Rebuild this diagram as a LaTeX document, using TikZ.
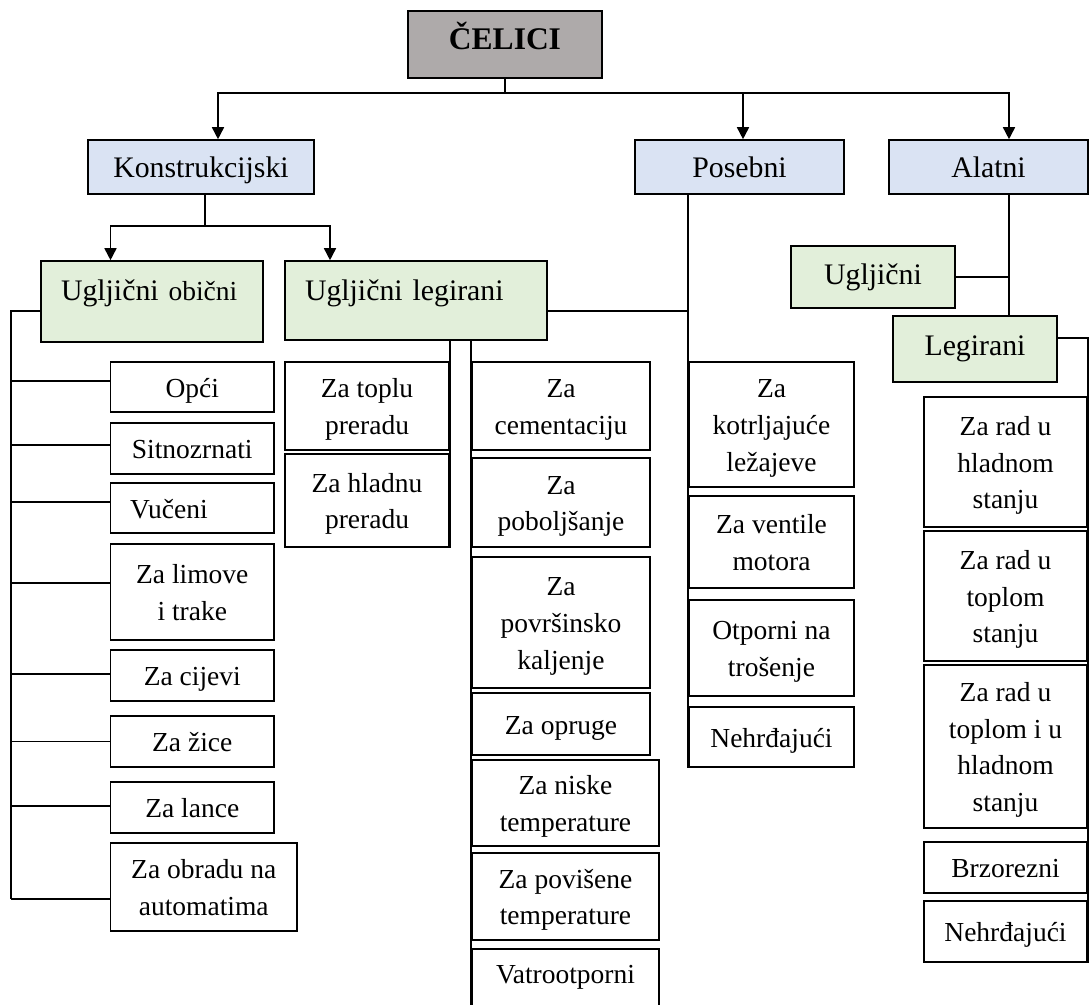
\documentclass[tikz,border=0pt]{standalone}
\usepackage{fontspec}
\setmainfont{Liberation Serif}
\usetikzlibrary{arrows.meta}
\definecolor{cgray}{RGB}{174,170,170}
\definecolor{cblue}{RGB}{218,227,243}
\definecolor{cgreen}{RGB}{226,239,218}
\newcommand{\bigf}{\fontsize{29.8}{36}\selectfont}
\newcommand{\smf}{\fontsize{27.5}{36.7}\selectfont}
\newcommand{\mystrut}{\rule[-0.216em]{0pt}{1.107em}}
\begin{document}
\begin{tikzpicture}[x=1pt,y=-1pt,
  mybox/.style={draw, line width=1.6pt, inner sep=0pt, align=center},
  strutted/.style={execute at begin node=\mystrut, execute at end node=\mystrut},
  kid/.style={mybox, font=\smf, text height=26pt, text depth=6pt},
  kidtwo/.style={kid, text height=62.7pt},
  kidthree/.style={kid, text height=99.4pt},
  kidfour/.style={kid, text height=136.1pt},
  lvlone/.style={mybox, font=\bigf, fill=cblue, strutted},
  lvltwo/.style={mybox, font=\bigf, fill=cgreen},
  con/.style={line width=1.6pt},
  arr/.style={con, -{Triangle[length=12pt,width=12pt]}}]
\useasboundingbox (0,0) rectangle (1089,1004);
\fill[white] (0,0) rectangle (1089,1004);

% top
\node[mybox, fill=cgray, font=\bfseries\fontsize{31.5}{36}\selectfont,
  minimum width=194pt, minimum height=67pt, text height=22pt, text depth=12pt] (celici) at (505,44.5) {ČELICI};

% level one
\node[lvlone, minimum width=226pt, minimum height=54pt] (konstr) at (201,167) {Konstrukcijski};
\node[lvlone, minimum width=209pt, minimum height=54pt] (posebni) at (739.5,167) {Posebni};
\node[lvlone, minimum width=199pt, minimum height=54pt] (alatni) at (988.5,167) {Alatni};

% level two
\node[lvltwo, minimum width=222pt, minimum height=81pt, text width=182pt, inner xsep=20pt, align=left,
  text height=23pt, text depth=25pt] (uo) at (152,301.5) {Ugljični {\smf obični}};
\node[lvltwo, minimum width=262pt, minimum height=79pt, text width=222pt, inner xsep=20pt, align=left,
  text height=23pt, text depth=23pt] (ul) at (416,300.5) {Ugljični legirani};
\node[lvltwo, minimum width=164pt, minimum height=62pt] (uga) at (873,277) {Ugljični};
\node[lvltwo, minimum width=164pt, minimum height=66pt] (lega) at (975,349) {Legirani};

% left column
\node[kid, minimum width=163.5pt, minimum height=50pt] (opci) at (192.25,387) {Opći};
\node[kid, minimum width=163.5pt, minimum height=51pt] (sitno) at (192.25,448.5) {Sitnozrnati};
\node[kid, minimum width=163.5pt, minimum height=50pt, text width=124.5pt, inner xsep=19.5pt, align=left] (vuceni) at (192.25,508) {Vučeni};
\node[kidtwo, minimum width=163.5pt, minimum height=96pt] (limove) at (192.25,592) {Za limove\\i trake};
\node[kid, minimum width=163.5pt, minimum height=51pt] (cijevi) at (192.25,675.5) {Za cijevi};
\node[kid, minimum width=163.5pt, minimum height=51pt] (zice) at (192.25,741.5) {Za žice};
\node[kid, minimum width=163.5pt, minimum height=51pt] (lance) at (192.25,807.5) {Za lance};
\node[kidtwo, minimum width=186.5pt, minimum height=88pt] (obradu) at (203.75,887) {Za obradu na\\automatima};

% legirani column 1
\node[kidtwo, minimum width=164pt, minimum height=88pt] (toplu) at (367,406) {Za toplu\\preradu};
\node[kidtwo, minimum width=164pt, minimum height=93pt] (hladnu) at (367,500.5) {Za hladnu\\preradu};

% legirani column 2
\node[kidtwo, minimum width=178pt, minimum height=88pt] (cem) at (561,406) {Za\\cementaciju};
\node[kidtwo, minimum width=178pt, minimum height=89pt] (pob) at (561,502.5) {Za\\poboljšanje};
\node[kidthree, minimum width=178pt, minimum height=131pt] (pov) at (561,622.5) {Za\\površinsko\\kaljenje};
\node[kid, minimum width=178pt, minimum height=62pt] (opr) at (561,724) {Za opruge};
\node[kidtwo, minimum width=187pt, minimum height=86pt] (niske) at (565.5,803) {Za niske\\temperature};
\node[kidtwo, minimum width=187pt, minimum height=87pt] (povis) at (565.5,896.5) {Za povišene\\temperature};
\node[mybox, font=\smf, minimum width=187pt, minimum height=66pt, text height=24pt, text depth=22pt] (vatro) at (565.5,982) {Vatrootporni};

% posebni column
\node[kidthree, minimum width=165pt, minimum height=125pt] (kotr) at (771.5,424.5) {Za\\kotrljajuće\\ležajeve};
\node[kidtwo, minimum width=165pt, minimum height=92pt] (vent) at (771.5,542) {Za ventile\\motora};
\node[kidtwo, minimum width=165pt, minimum height=96pt] (otp) at (771.5,648) {Otporni na\\trošenje};
\node[kid, minimum width=165pt, minimum height=60pt] (nehra) at (771.5,737) {Nehrđajući};

% alatni column
\node[kidthree, minimum width=163pt, minimum height=130pt] (hlad) at (1005.5,462) {Za rad u\\hladnom\\stanju};
\node[kidthree, minimum width=163pt, minimum height=130pt] (topl) at (1005.5,596) {Za rad u\\toplom\\stanju};
\node[kidfour, minimum width=163pt, minimum height=163pt] (tih) at (1005.5,746.5) {Za rad u\\toplom i u\\hladnom\\stanju};
\node[kid, minimum width=163pt, minimum height=51pt] (brz) at (1005.5,867.5) {Brzorezni};
\node[kid, minimum width=163pt, minimum height=61pt] (nehrb) at (1005.5,931.5) {Nehrđajući};

% connectors from ČELICI
\coordinate (hb) at (0,93);
\draw[con] (celici.south) -- (celici.south |- hb);
\draw[arr] (celici.south |- hb) -| ([xshift=17pt]konstr.north);
\draw[arr] (celici.south |- hb) -| ([xshift=3.5pt]posebni.north);
\draw[arr] (celici.south |- hb) -| ([xshift=20.5pt]alatni.north);

% Konstrukcijski
\coordinate (kb) at (0,226);
\draw[con] ([xshift=4pt]konstr.south) -- ([xshift=4pt]konstr.south |- kb);
\draw[arr] ([xshift=4pt]konstr.south |- kb) -| ([xshift=-41.5pt]uo.north);
\draw[arr] ([xshift=4pt]konstr.south |- kb) -| ([xshift=-86pt]ul.north);

% Ugljični obični bus
\coordinate (lb) at (11,311);
\draw[con] (uo.west |- lb) -- (lb) -- ([yshift=-12pt]obradu.west -| lb);
\foreach \n/\s in {opci/6,sitno/3.5,vuceni/6,limove/9,cijevi/1.5,zice/0,lance/1.5,obradu/-12}
  \draw[con] ([yshift=\s pt]\n.west -| lb) -- ([yshift=\s pt]\n.west);

% Ugljični legirani
\draw[con] (ul.south -| toplu.east) -- (hladnu.south east);
\draw[con] (ul.south -| cem.west) -- (vatro.south west);
\coordinate (ub) at (0,311);
\draw[con] (ul.east |- ub) -- (kotr.west |- ub);

% Posebni
\draw[con] (posebni.south -| kotr.west) -- (nehra.south west);

% Alatni
\coordinate (ab) at (1009,0);
\draw[con] (alatni.south -| ab) -- (lega.north -| ab);
\draw[con] (uga.east) -- (uga.east -| ab);
\draw[con] ([yshift=11pt]lega.east) -| (nehrb.south east);
\end{tikzpicture}
\end{document}
